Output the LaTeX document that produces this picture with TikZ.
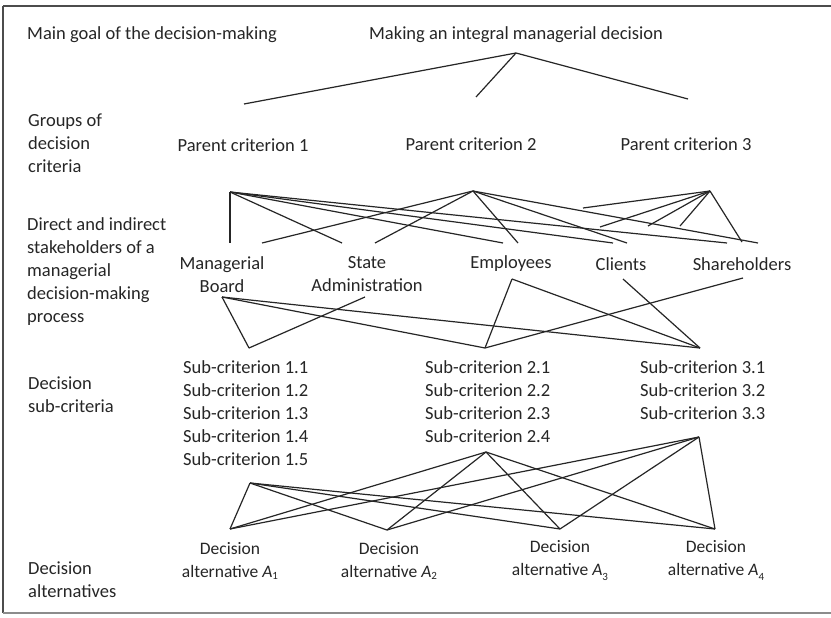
\documentclass[tikz,border=0pt]{standalone}
\usepackage{fontspec}
\setmainfont{Carlito}
\begin{document}
\begin{tikzpicture}[x=1pt,y=-1pt,
  txt/.style={inner sep=0pt, text=black!85, font=\fontsize{18.5}{23}\selectfont, align=center},
  alt/.style={txt, font=\fontsize{17.5}{23}\selectfont},
  lbl/.style={txt, anchor=west, align=left},
  sub/.style={txt, anchor=west, align=left},
  edge/.style={draw=black!85, line width=1.2pt}]
\useasboundingbox (0,0) rectangle (831,618);
\fill[white] (0,0) rectangle (831,618);
% frame
\draw[black!70, line width=1.6pt] (3,6) -- (831,6);
\draw[black!70, line width=1.6pt] (3,6) -- (3,613);
\draw[black!45, line width=2pt] (3,613) -- (831,613);
% level labels
\node[lbl] (L1) at (27,35) {Main goal of the decision-making};
\node[lbl] (L2) at (28,143) {Groups of\\decision\\criteria};
\node[lbl] (L3) at (27,271.5) {Direct and indirect\\stakeholders of a\\managerial\\decision-making\\process};
\node[lbl] (L4) at (28,394.5) {Decision\\sub-criteria};
\node[lbl] (L5) at (28,579.5) {Decision\\alternatives};
% goal
\node[txt] (goal) at (516,35) {Making an integral managerial decision};
% parent criteria
\node[txt] (pc1) at (243,145) {Parent criterion 1};
\node[txt] (pc2) at (471,144) {Parent criterion 2};
\node[txt] (pc3) at (686,144) {Parent criterion 3};
% stakeholders
\node[txt] (mb) at (222,274.5) {Managerial\\Board};
\node[txt] (st) at (367,274.5) {State\\Administration};
\node[txt] (em) at (511,264) {Employees};
\node[txt] (cl) at (621,264) {Clients};
\node[txt] (sh) at (742,264) {Shareholders};
% sub-criteria
\node[sub] (s1) at (183,413) {Sub-criterion 1.1\\Sub-criterion 1.2\\Sub-criterion 1.3\\Sub-criterion 1.4\\Sub-criterion 1.5};
\node[sub] (s2) at (425,401.5) {Sub-criterion 2.1\\Sub-criterion 2.2\\Sub-criterion 2.3\\Sub-criterion 2.4};
\node[sub] (s3) at (640,390) {Sub-criterion 3.1\\Sub-criterion 3.2\\Sub-criterion 3.3};
% alternatives
\node[alt] (a1) at (230,560.5) {Decision\\alternative \textit{A}\raisebox{-2pt}{\fontsize{11}{11}\selectfont 1}};
\node[alt] (a2) at (389,560.5) {Decision\\alternative \textit{A}\raisebox{-2pt}{\fontsize{11}{11}\selectfont 2}};
\node[alt] (a3) at (560,561) {Decision\\alternative \textit{A}\raisebox{-5pt}{\fontsize{11}{11}\selectfont 3}};
\node[alt] (a4) at (716,560.5) {Decision\\alternative \textit{A}\raisebox{-5pt}{\fontsize{11}{11}\selectfont 4}};
% connector points
\coordinate (g) at (516,53);
\coordinate (g1) at (244,104);
\coordinate (g2) at (476,97);
\coordinate (g3) at (688,99);
\coordinate (p1) at (230,192);
\coordinate (p2) at (473,191);
\coordinate (p3) at (710,191);
\coordinate (mb1) at (230,243);
\coordinate (st1) at (342,243);
\coordinate (em1) at (503,243);
\coordinate (cl1) at (613,243);
\coordinate (sh1) at (727,243);
\coordinate (mb2) at (262,243);
\coordinate (st2) at (375,243);
\coordinate (em2) at (518,243);
\coordinate (cl2) at (627,243);
\coordinate (sh2) at (758,243);
\coordinate (q1) at (583,208);
\coordinate (q2) at (600,227);
\coordinate (q3) at (648,226);
\coordinate (q4) at (680,226);
\coordinate (q5) at (742,242);
\coordinate (mbB) at (222,297);
\coordinate (stB) at (365,297);
\coordinate (emB) at (512,279);
\coordinate (clB) at (623,279);
\coordinate (shB) at (743,278);
\coordinate (s1T) at (249,348);
\coordinate (s2T) at (485,348);
\coordinate (s3T) at (700,348);
\coordinate (s1B) at (250,483);
\coordinate (s2B) at (486,452);
\coordinate (s3B) at (699,437);
\coordinate (a1T) at (230,529);
\coordinate (a2T) at (387,530);
\coordinate (a3T) at (560,529);
\coordinate (a4T) at (715,529);
% goal to parent criteria
\draw[edge] (g) -- (g1);
\draw[edge] (g) -- (g2);
\draw[edge] (g) -- (g3);
% parent criteria to stakeholders
\foreach \e in {mb1,st1,em1,cl1,sh1} \draw[edge] (p1) -- (\e);
\foreach \e in {mb2,st2,em2,cl2,sh2} \draw[edge] (p2) -- (\e);
\foreach \e in {q1,q2,q3,q4,q5} \draw[edge] (p3) -- (\e);
% stakeholders to sub-criteria
\draw[edge] (mbB) -- (s1T);
\draw[edge] (mbB) -- (s2T);
\draw[edge] (mbB) -- (s3T);
\draw[edge] (stB) -- (s1T);
\draw[edge] (emB) -- (s2T);
\draw[edge] (emB) -- (s3T);
\draw[edge] (clB) -- (s3T);
\draw[edge] (shB) -- (s2T);
% sub-criteria to alternatives
\foreach \s in {s1B,s2B,s3B}
  \foreach \a in {a1T,a2T,a3T,a4T}
    \draw[edge] (\s) -- (\a);
\end{tikzpicture}
\end{document}
